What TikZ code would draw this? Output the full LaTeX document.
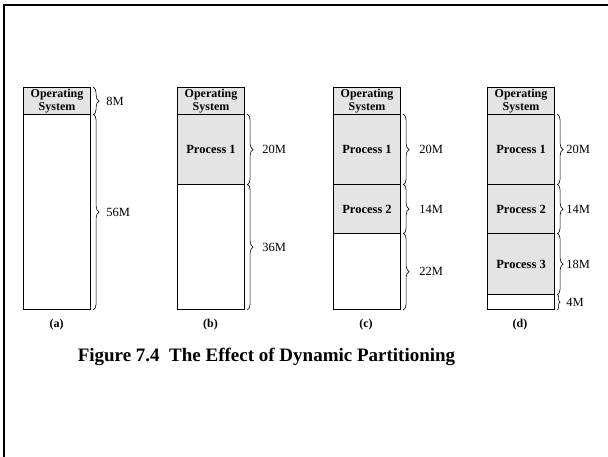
\documentclass[tikz,border=0pt]{standalone}
\usepackage{fontspec}
\setmainfont{Liberation Serif}
\usetikzlibrary{decorations.pathreplacing}
\definecolor{usedfill}{RGB}{228,228,228}
\begin{document}
\begin{tikzpicture}[x=1pt,y=-1pt,
  seg/.style={draw=black, line width=1.1pt, anchor=north west, minimum width=67pt, inner sep=0pt, align=center, font=\bfseries\fontsize{12.5}{12.5}\selectfont},
  used/.style={seg, fill=usedfill},
  ostext/.style={used, minimum height=27pt, font=\bfseries\fontsize{12}{12.2}\selectfont},
  brc/.style={decorate, decoration={brace, amplitude=6pt}, line width=0.6pt},
  sz/.style={anchor=west, inner sep=0pt, font=\fontsize{12.5}{12.5}\selectfont},
  sub/.style={font=\bfseries\fontsize{12}{12}\selectfont},
]
\useasboundingbox (0,0) rectangle (608,457);
% frame
\draw[line width=2pt] (3.5,457) -- (3.5,5) -- (608,5);

% ---- (a)
\node[ostext] (aos)   at (23,87)  {Operating\\System};
\node[seg,  minimum height=195pt] (afree) at (23,114) {};
\draw[brc] ([xshift=2pt]aos.north east) -- ([xshift=2pt]aos.south east)
  node[sz, midway, xshift=13pt] (a8) {8M};
\draw[brc] ([xshift=2pt]afree.north east) -- ([xshift=2pt]afree.south east)
  node[sz, midway, xshift=13pt] (a56) {56M};
\node[sub] (la) at (56.5,325) {(a)};

% ---- (b)
\node[ostext] (bos)   at (177,87)  {Operating\\System};
\node[used, minimum height=70pt]  (bp1)   at (177,114) {Process 1};
\node[seg,  minimum height=125pt] (bfree) at (177,184) {};
\draw[brc] ([xshift=2pt]bp1.north east) -- ([xshift=2pt]bp1.south east)
  node[sz, midway, xshift=15pt] (b20) {20M};
\draw[brc] ([xshift=2pt]bfree.north east) -- ([xshift=2pt]bfree.south east)
  node[sz, midway, xshift=15pt] (b36) {36M};
\node[sub] (lb) at (210.5,325) {(b)};

% ---- (c)
\node[ostext] (cos)   at (333,87)  {Operating\\System};
\node[used, minimum height=70pt]  (cp1)   at (333,114) {Process 1};
\node[used, minimum height=49pt]  (cp2)   at (333,184) {Process 2};
\node[seg,  minimum height=76pt]  (cfree) at (333,233) {};
\draw[brc] ([xshift=2pt]cp1.north east) -- ([xshift=2pt]cp1.south east)
  node[sz, midway, xshift=16pt] (c20) {20M};
\draw[brc] ([xshift=2pt]cp2.north east) -- ([xshift=2pt]cp2.south east)
  node[sz, midway, xshift=16pt] (c14) {14M};
\draw[brc] ([xshift=2pt]cfree.north east) -- ([xshift=2pt]cfree.south east)
  node[sz, midway, xshift=16pt] (c22) {22M};
\node[sub] (lc) at (366,325) {(c)};

% ---- (d)
\node[ostext] (dos)   at (487,87)  {Operating\\System};
\node[used, minimum height=70pt]  (dp1)   at (487,114) {Process 1};
\node[used, minimum height=49pt]  (dp2)   at (487,184) {Process 2};
\node[used, minimum height=61pt]  (dp3)   at (487,233) {Process 3};
\node[seg,  minimum height=15pt]  (dfree) at (487,294) {};
\draw[brc] ([xshift=2pt]dp1.north east) -- ([xshift=2pt]dp1.south east)
  node[sz, midway, xshift=9pt] (d20) {20M};
\draw[brc] ([xshift=2pt]dp2.north east) -- ([xshift=2pt]dp2.south east)
  node[sz, midway, xshift=9pt] (d14) {14M};
\draw[brc] ([xshift=2pt]dp3.north east) -- ([xshift=2pt]dp3.south east)
  node[sz, midway, xshift=9pt] (d18) {18M};
\draw[brc, decoration={brace, amplitude=3pt}] ([xshift=2pt]dfree.north east) -- ([xshift=2pt]dfree.south east)
  node[sz, midway, xshift=9pt] (d4) {4M};
\node[sub] (ld) at (520,325) {(d)};

% title
\node[font=\bfseries\fontsize{19}{20}\selectfont] (title) at (266.5,357)
  {Figure 7.4\enspace The Effect of Dynamic Partitioning};
\end{tikzpicture}
\end{document}
